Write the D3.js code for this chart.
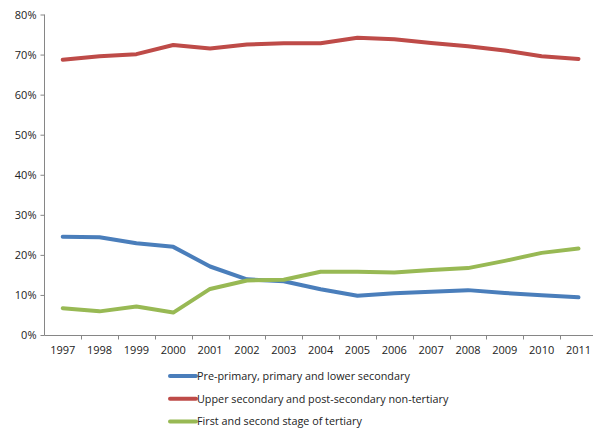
<!DOCTYPE html>
<html><head><meta charset="utf-8">
<script src="https://cdn.jsdelivr.net/npm/d3@7"></script>
<style>
body{margin:0;background:#fff;}
svg{display:block;}
text{font-family:"Open Sans","Liberation Sans",sans-serif;fill:#222;}
</style></head>
<body>
<svg id="c" width="593" height="430"></svg>
<script>
const years = ["1997","1998","1999","2000","2001","2002","2003","2004","2005","2006","2007","2008","2009","2010","2011"];
const lowerSecondary = [24.5,24.4,22.9,22.0,17.1,13.9,13.4,11.4,9.8,10.4,10.8,11.2,10.5,9.9,9.4];
const upperSecondary = [68.7,69.6,70.1,72.4,71.5,72.5,72.8,72.8,74.2,73.8,72.9,72.1,71.0,69.6,68.9];
const tertiary = [6.7,5.9,7.1,5.6,11.5,13.6,13.8,15.8,15.8,15.6,16.2,16.7,18.5,20.5,21.6];
const seriesNames = ["Pre-primary, primary and lower secondary","Upper secondary and post-secondary non-tertiary","First and second stage of tertiary"];
const seriesColors = ["#4a7ebb","#be4b48","#98b954"];
const yTicks = [0,10,20,30,40,50,60,70,80];

const svg = d3.select("#c");
const x = d3.scaleBand().domain(years).range([44.3, 596.9]).padding(0);
const y = d3.scaleLinear().domain([0,80]).range([335,14.5]);

// y axis
const ya = svg.append("g").attr("transform","translate(44.5,0)")
  .call(d3.axisLeft(y).tickValues(yTicks).tickSize(4).tickPadding(4).tickFormat(d=>d+"%"));
ya.selectAll("path,line").attr("stroke","#868686");
ya.select(".domain").attr("d",`M0,${y(80)}V${y(0)}`);
ya.selectAll("text").attr("font-size","11px").attr("font-family",'"Open Sans",sans-serif').attr("fill","#222");

// x axis
const xa = svg.append("g").attr("transform","translate(0,335.5)")
  .call(d3.axisBottom(x).tickSize(0).tickPadding(11));
xa.select(".domain").attr("d",`M${x.range()[0]},0H${x.range()[1]}`).attr("stroke","#868686");
xa.selectAll("text").attr("font-size","11px").attr("font-family",'"Open Sans",sans-serif').attr("fill","#222");
xa.selectAll(".bt").data(years.slice(1)).enter().append("line")
  .attr("x1",d=>Math.round(x(d))+0.5).attr("x2",d=>Math.round(x(d))+0.5)
  .attr("y1",0).attr("y2",4).attr("stroke","#868686");

// lines
const allSeries = [lowerSecondary, upperSecondary, tertiary];
const line = d3.line().x((d,i)=>x(years[i])+x.bandwidth()/2).y(d=>y(d));
allSeries.forEach((s,k)=>{
  svg.append("path").datum(s).attr("d",line).attr("fill","none")
    .attr("stroke",seriesColors[k]).attr("stroke-width",4)
    .attr("stroke-linejoin","round").attr("stroke-linecap","round");
});

// legend
const lg = svg.append("g");
seriesNames.forEach((n,k)=>{
  const cy = 376 + k*22.8;
  lg.append("line").attr("x1",170).attr("x2",196).attr("y1",cy).attr("y2",cy)
    .attr("stroke",seriesColors[k]).attr("stroke-width",4).attr("stroke-linecap","round");
  lg.append("text").attr("x",197).attr("y",cy).attr("dy","0.35em")
    .attr("font-size","10.8px").text(n);
});
</script>
</body></html>
